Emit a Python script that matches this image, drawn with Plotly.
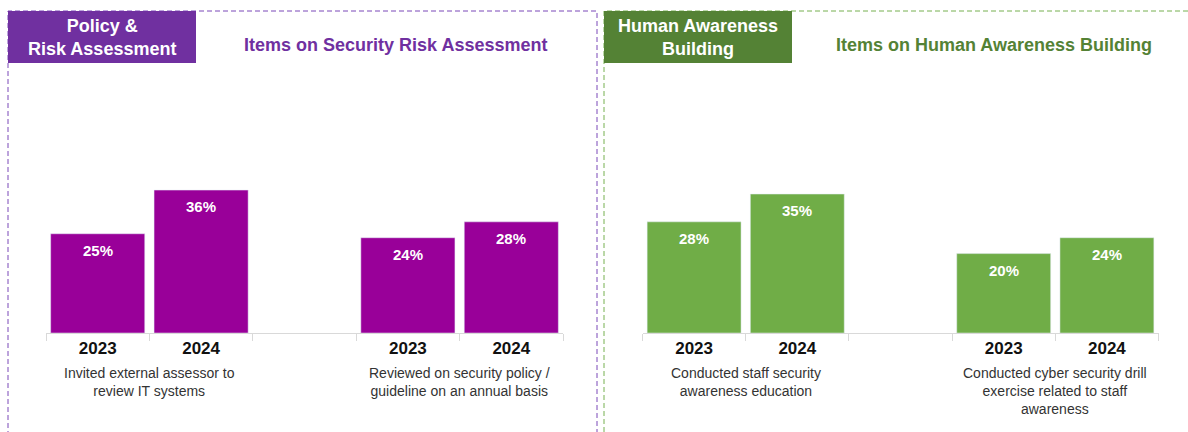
import plotly.graph_objects as go

W, H = 1188, 432

years = ["2023", "2024"]
left_items = ["Invited external assessor to<br>review IT systems",
              "Reviewed on security policy /<br>guideline on an annual basis"]
left_2023 = [25, 24]
left_2024 = [36, 28]
right_items = ["Conducted staff security<br>awareness education",
               "Conducted cyber security drill<br>exercise related to staff<br>awareness"]
right_2023 = [28, 20]
right_2024 = [35, 24]

left_title = "Items on Security Risk Assessment"
right_title = "Items on Human Awareness Building"
left_header = "Policy &<br>Risk Assessment"
right_header = "Human Awareness<br>Building"

PURPLE_BAR = "#990099"
PURPLE_HDR = "#7030A0"
GREEN_BAR = "#70AD47"
GREEN_HDR = "#548235"
FONT = "Liberation Sans, Arial, sans-serif"


def px(x):
    return x / W


def py(y):
    return 1 - y / H


slots = [0, 1, 3, 4]
fig = go.Figure()
annotations = []

panels = [
    ("x", "y", left_items, left_2023, left_2024, PURPLE_BAR),
    ("x2", "y2", right_items, right_2023, right_2024, GREEN_BAR),
]
for xa, ya, items, v23, v24, col in panels:
    vals = [v23[0], v24[0], v23[1], v24[1]]
    fig.add_trace(go.Bar(x=slots, y=vals, marker_color=col, width=0.91,
                         xaxis=xa, yaxis=ya, showlegend=False, hoverinfo="skip"))
    for s, v in zip(slots, vals):
        annotations.append(dict(x=s, y=v, xref=xa, yref=ya, text=f"<b>{v}%</b>",
                                showarrow=False, xanchor="center", yanchor="top", yshift=-6,
                                font=dict(family=FONT, size=15, color="white")))
    for i, item in enumerate(items):
        annotations.append(dict(x=0.5 + 3 * i, y=py(363), xref=xa, yref="paper",
                                text=item, showarrow=False, xanchor="center", yanchor="top",
                                align="center",
                                font=dict(family=FONT, size=14, color="#333333")))

axis_common = dict(range=[-0.5, 4.5], tickmode="array", tickvals=slots,
                   ticktext=[f"<b>{y}</b>" for y in years] * 2,
                   tickfont=dict(family=FONT, size=17, color="#111111"),
                   showline=True, linecolor="#d9d9d9", linewidth=1, ticks="",
                   showgrid=False, zeroline=False, fixedrange=True,
                   minor=dict(tickmode="linear", tick0=-0.5, dtick=1, ticks="outside",
                              ticklen=7, tickcolor="#d9d9d9", showgrid=False))
ydom = [py(333), py(333 - 40 * 3.97)]
yaxis_common = dict(range=[0, 40], domain=ydom, visible=False, fixedrange=True)

fig.update_layout(
    width=W, height=H, margin=dict(l=0, r=0, t=0, b=0),
    paper_bgcolor="white", plot_bgcolor="white",
    xaxis=dict(domain=[px(46), px(563)], anchor="y", **axis_common),
    xaxis2=dict(domain=[px(642.5), px(1158.5)], anchor="y2", **axis_common),
    yaxis=dict(anchor="x", **yaxis_common),
    yaxis2=dict(anchor="x2", **yaxis_common),
    bargap=0.09,
)

shapes = [
    dict(type="rect", xref="paper", yref="paper", x0=px(8), x1=px(597), y0=py(445), y1=py(11),
         line=dict(color="#7b48b8", width=1, dash="5px,3px"), layer="below"),
    dict(type="rect", xref="paper", yref="paper", x0=px(604), x1=px(1195), y0=py(445), y1=py(11),
         line=dict(color="#76b050", width=1, dash="5px,3px"), layer="below"),
    dict(type="rect", xref="paper", yref="paper", x0=px(8), x1=px(196), y0=py(63), y1=py(11),
         fillcolor=PURPLE_HDR, line=dict(width=0), layer="below"),
    dict(type="rect", xref="paper", yref="paper", x0=px(604), x1=px(792), y0=py(63), y1=py(11),
         fillcolor=GREEN_HDR, line=dict(width=0), layer="below"),
]

annotations += [
    dict(x=px(102), y=py(37), xref="paper", yref="paper", text=f"<b>{left_header}</b>",
         showarrow=False, xanchor="center", yanchor="middle",
         font=dict(family=FONT, size=18, color="white"), align="center"),
    dict(x=px(698), y=py(37), xref="paper", yref="paper", text=f"<b>{right_header}</b>",
         showarrow=False, xanchor="center", yanchor="middle",
         font=dict(family=FONT, size=18, color="white"), align="center"),
    dict(x=px(395), y=py(45), xref="paper", yref="paper", text=f"<b>{left_title}</b>",
         showarrow=False, xanchor="center", yanchor="middle",
         font=dict(family=FONT, size=18, color=PURPLE_HDR)),
    dict(x=px(994), y=py(45), xref="paper", yref="paper", text=f"<b>{right_title}</b>",
         showarrow=False, xanchor="center", yanchor="middle",
         font=dict(family=FONT, size=18, color=GREEN_HDR)),
]

fig.update_layout(shapes=shapes, annotations=annotations)
fig.write_html("out.html")
